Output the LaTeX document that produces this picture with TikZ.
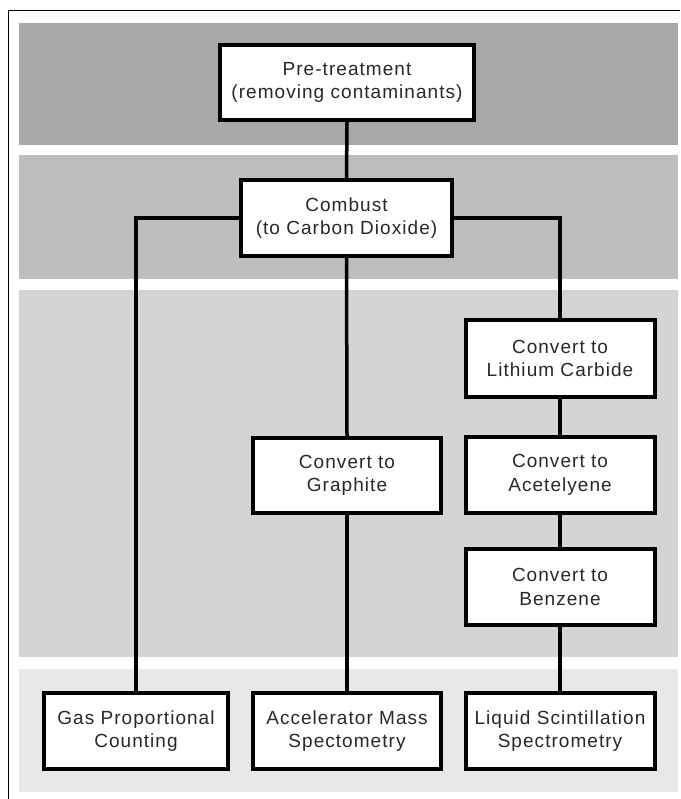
\documentclass[tikz,border=0pt]{standalone}
\usepackage{fontspec}
\setmainfont{Liberation Sans}[LetterSpace=5.5]
\definecolor{bandA}{HTML}{A8A8A8}
\definecolor{bandB}{HTML}{BEBEBE}
\definecolor{bandC}{HTML}{D4D4D4}
\definecolor{bandD}{HTML}{E8E8E8}
\definecolor{txt}{HTML}{282828}
\begin{document}
\begin{tikzpicture}[x=1pt,y=-1pt,
  box/.style={draw, line width=4pt, fill=white, align=center, inner sep=0pt,
    text=txt, font=\fontsize{19}{23.5}\selectfont},
  conn/.style={draw, line width=3.5pt, line join=miter}]
\useasboundingbox (0,0) rectangle (680,799);
\fill[white] (0,0) rectangle (680,799);
% frame
\draw[line width=1pt] (680,11) -- (8,11) -- (8,799);
% bands
\fill[bandA] (19,23) rectangle (678,145);
\fill[bandB] (19,155) rectangle (678,279);
\fill[bandC] (19,290) rectangle (678,657);
\fill[bandD] (19,669) rectangle (678,792);
% nodes
\node[box, minimum width=254pt, minimum height=75pt] (pre) at (347,82.5) {Pre-treatment\\(removing contaminants)};
\node[box, minimum width=211pt, minimum height=76pt] (comb) at (346.5,218) {Combust\\(to Carbon Dioxide)};
\node[box, minimum width=189pt, minimum height=77pt] (lith) at (560,358.5) {Convert to\\Lithium Carbide};
\node[box, minimum width=188pt, minimum height=75pt] (graph) at (347,475.5) {Convert to\\Graphite};
\node[box, minimum width=189pt, minimum height=76pt] (acet) at (560,475) {Convert to\\Acetelyene};
\node[box, minimum width=189pt, minimum height=76pt] (benz) at (560,587) {Convert to\\Benzene};
\node[box, minimum width=184pt, minimum height=76pt] (gas) at (136,731) {Gas Proportional\\Counting};
\node[box, minimum width=188pt, minimum height=76pt] (accel) at (347,731) {Accelerator Mass\\Spectometry};
\node[box, minimum width=189pt, minimum height=76pt] (liq) at (560,731) {Liquid Scintillation\\Spectrometry};
% connectors
\path[conn] (pre.south) -- (comb.north);
\path[conn] (comb.west) -| (gas.north);
\path[conn] (comb.east) -| (lith.north);
\path[conn] (comb.south) -- (graph.north);
\path[conn] (graph.south) -- (accel.north);
\path[conn] (lith.south) -- (acet.north);
\path[conn] (acet.south) -- (benz.north);
\path[conn] (benz.south) -- (liq.north);
\end{tikzpicture}
\end{document}
